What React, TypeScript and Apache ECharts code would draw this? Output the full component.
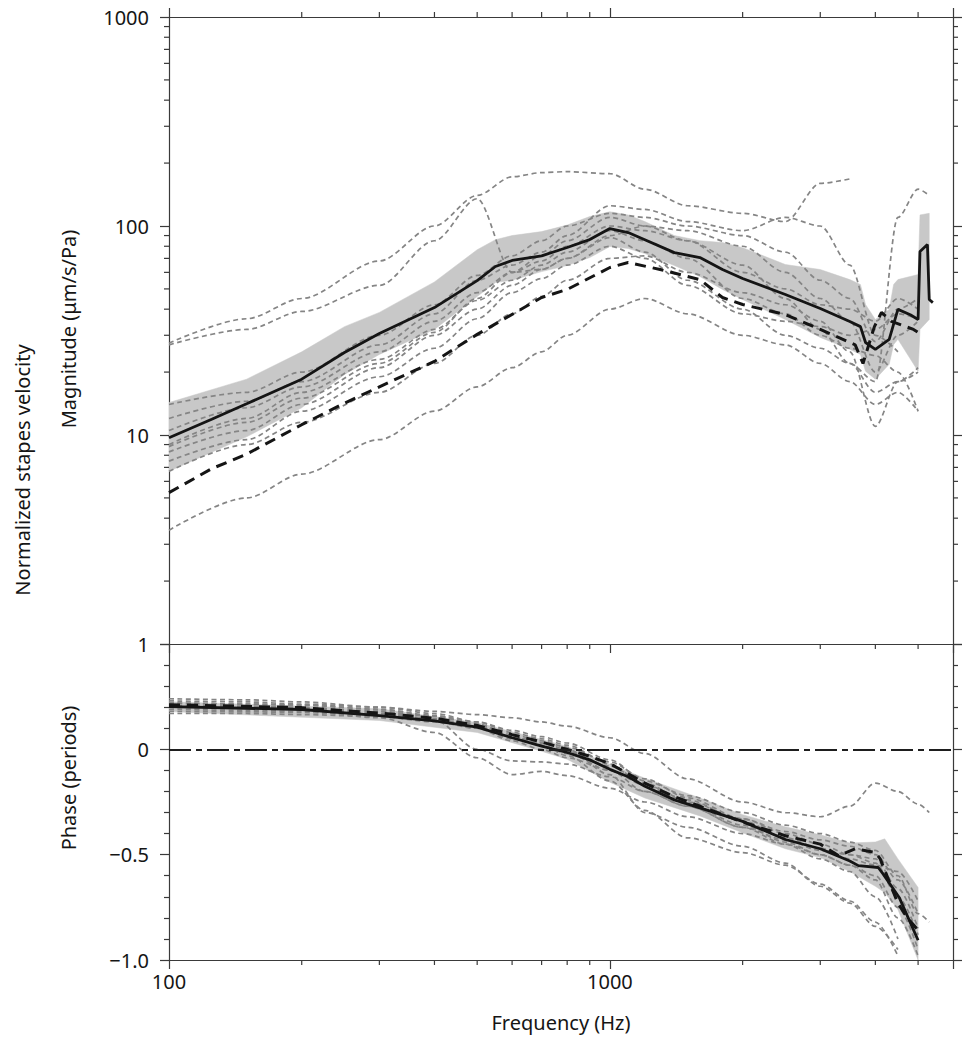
import React, { useEffect, useRef } from "react";
import * as echarts from "echarts";

const FONT = '"Noto Sans", "DejaVu Sans", Arial, sans-serif';
const INK = "#151515";
const AXIS = "#3a3a3a";
const EAR = "#858585";
const BAND = "#c8c8c8";

// ---- tick values ----
const xTickLabels = [100, 1000];
const freqMinorTicks = [200, 300, 400, 500, 600, 700, 800, 900, 2000, 3000, 4000, 5000];
const magTickLabels = [1, 10, 100, 1000];
const magMinorTicks = [2, 3, 4, 5, 6, 7, 8, 9, 20, 30, 40, 50, 60, 70, 80, 90, 200, 300, 400, 500, 600, 700, 800, 900];
const phaseTickLabels = [-1, -0.5, 0];

// ---- magnitude: mean (solid) ----
const freqMeanMag = [100, 125, 150, 200, 250, 300, 400, 500, 550, 600, 700, 800, 900, 1000, 1100, 1200, 1400, 1600, 1800, 2000, 2500, 3000, 3500, 3700, 3800, 4000, 4300, 4500, 4800, 5000, 5050, 5250, 5300, 5400];
const meanMag = [9.7, 11.9, 14.1, 18.5, 24.8, 30.6, 40.7, 54.8, 64, 68.4, 72, 78.9, 86.1, 97.2, 93, 86, 74.6, 70.6, 61.9, 56.1, 47, 40.3, 34.9, 33, 27.7, 25.7, 28.7, 39.9, 37.6, 35.7, 75.5, 81.5, 44.5, 43];

// ---- magnitude: second mean (dashed) ----
const freqDashMag = [100, 125, 150, 200, 250, 300, 400, 500, 700, 800, 1000, 1100, 1300, 1600, 1800, 2000, 2500, 3000, 3600, 3750, 3980, 4130, 4350, 4880, 5000];
const dashMag = [5.3, 6.9, 8.1, 11.2, 14.2, 17, 22.5, 30.3, 45.5, 49.7, 63.3, 66.9, 61.9, 55.4, 45.5, 42.1, 37.7, 32, 27, 22, 33, 38.6, 35, 32, 31];

// ---- magnitude: shaded band ----
const freqBandMag = [100, 150, 200, 250, 300, 400, 500, 550, 600, 700, 800, 900, 1000, 1100, 1200, 1400, 1600, 1800, 2000, 2500, 3000, 3500, 3700, 3800, 4000, 4300, 4400, 4500, 5000, 5050, 5300];
const bandMagHi = [14.3, 18.5, 25, 33, 38.6, 54, 77, 86, 90, 94, 101, 111, 117, 113, 105, 90, 85.1, 83.3, 78.8, 65.4, 61.9, 55.4, 52.5, 42.1, 35.7, 39.9, 52.5, 55.4, 58.6, 113, 115];
const bandMagLo = [6.71, 9.8, 13.5, 19.5, 24.3, 32, 46, 53.6, 55, 60.5, 64.7, 70.6, 79.8, 78, 73.8, 64.7, 57.3, 49.7, 44.5, 35.7, 29.3, 25.7, 24.3, 20.2, 18.5, 21.8, 27.1, 28.7, 20.2, 32, 35.7];

// ---- individual ears ----
const freqEar = [100, 150, 200, 300, 400, 500, 600, 700, 800, 1000, 1200, 1500, 2000, 2500, 3000, 3500, 4000, 4500, 5000, 5300];
const magEarA = [27.5, 36, 45, 68, 100, 140, 172, 180, 182, 178, 150, 125, 115, 105, 160, 168, null, null, null, null];
const magEarB = [27, 32, 39, 52, 85, 135, 60, 62, 70, 90, 100, 95, 80, 60, 45, 35, 20, 30, 35, null];
const magEarC = [14, 16, 20, 30, 42, 58, 72, 85, 100, 115, 110, 100, 90, 75, 55, 45, 28, 40, 45, null];
const magEarD = [12, 14.5, 18, 27, 38, 55, 65, 75, 90, 125, 120, 105, 95, 110, 100, 65, 30, 25, null, null];
const magEarE = [10.5, 13.5, 17, 25, 35, 48, 60, 68, 80, 100, 95, 85, 60, 50, 42, 40, 35, 45, 40, null];
const magEarF = [9, 12, 16, 23, 32, 44, 55, 65, 75, 95, 85, 70, 45, 38, 30, 26, 24, 20, 13, null];
const magEarG = [8.3, 10.5, 14, 21, 30, 40, 52, 62, 70, 88, 75, 55, 40, 30, 26, 22, 16, 18, 20, null];
const magEarH = [7.5, 9.5, 13, 19, 26, 36, 48, 56, 65, 80, 70, 52, 38, 35, 33, 30, 32, 38, 36, null];
const magEarI = [8.8, 11.5, 15, 22, 31, 45, 60, 72, 85, 110, 100, 85, 65, 45, 32, 22, 18, 110, 150, 140];
const magEarJ = [6.7, 9, 11.5, 16, 22, 30, 38, 46, 55, 70, 72, 60, 48, 42, 35, 25, 11, 18, 21, null];
const magEarK = [3.5, 5, 6.5, 9.5, 13, 17, 21, 25, 30, 40, 45, 38, 30, 27, 22, 18, 14, 16, 13, null];

const phEarA = [0.23, 0.225, 0.215, 0.2, 0.18, 0.165, 0.15, 0.13, 0.11, 0.055, -0.02, -0.14, -0.25, -0.3, -0.32, -0.27, -0.16, -0.2, -0.26, -0.3];
const phEarB = [0.19, 0.185, 0.18, 0.15, 0.08, -0.04, -0.12, -0.105, -0.125, -0.185, -0.25, -0.32, -0.4, -0.45, -0.5, -0.55, -0.62, -0.8, -0.98, null];
const phEarC = [0.2, 0.2, 0.195, 0.18, 0.14, 0.0, -0.055, -0.06, -0.07, -0.13, -0.2, -0.27, -0.37, -0.45, -0.52, -0.58, -0.7, -0.9, null, null];
const phEarD = [0.21, 0.205, 0.2, 0.18, 0.155, 0.12, 0.07, 0.04, 0.01, -0.06, -0.14, -0.23, -0.33, -0.39, -0.43, -0.46, -0.5, -0.62, -0.78, null];
const phEarE = [0.22, 0.215, 0.21, 0.19, 0.16, 0.12, 0.06, 0.02, -0.03, -0.15, -0.29, -0.42, -0.49, -0.55, -0.64, -0.72, -0.82, -0.98, null, null];
const phEarF = [0.2, 0.195, 0.19, 0.17, 0.145, 0.11, 0.06, 0.03, 0.0, -0.12, -0.3, -0.37, -0.46, -0.54, -0.65, -0.73, -0.84, -0.95, null, null];
const phEarG = [0.24, 0.235, 0.225, 0.2, 0.17, 0.13, 0.09, 0.06, 0.03, -0.05, -0.15, -0.22, -0.3, -0.36, -0.4, -0.44, -0.48, -0.6, -0.78, -0.82];
const phEarH = [0.17, 0.17, 0.165, 0.155, 0.13, 0.1, 0.05, 0.02, -0.02, -0.1, -0.17, -0.26, -0.36, -0.44, -0.5, -0.55, -0.6, -0.75, -0.95, null];
const phEarI = [0.22, 0.215, 0.21, 0.19, 0.16, 0.13, 0.08, 0.05, 0.02, -0.07, -0.17, -0.24, -0.34, -0.42, -0.47, -0.52, -0.55, -0.58, -0.72, null];
const phEarJ = [0.2, 0.195, 0.19, 0.17, 0.14, 0.1, 0.04, 0.0, -0.04, -0.1, -0.2, -0.27, -0.37, -0.43, -0.48, -0.5, -0.52, -0.66, -0.85, null];
const phEarK = [0.18, 0.178, 0.175, 0.16, 0.135, 0.105, 0.06, 0.03, -0.01, -0.08, -0.16, -0.25, -0.33, -0.4, -0.45, -0.5, -0.54, -0.7, -0.88, null];

// ---- phase: mean, dashed, band ----
const freqMeanPh = [100, 200, 300, 400, 500, 600, 700, 800, 900, 1000, 1100, 1200, 1400, 1600, 2000, 2500, 3000, 3500, 3660, 4060, 4160, 4530, 5000];
const meanPh = [0.203, 0.189, 0.16, 0.135, 0.105, 0.055, 0.015, -0.015, -0.05, -0.095, -0.13, -0.175, -0.24, -0.278, -0.342, -0.428, -0.472, -0.53, -0.552, -0.561, -0.59, -0.703, -0.906];
const freqDashPh = [100, 200, 300, 400, 500, 600, 700, 800, 900, 1000, 1200, 1400, 1600, 2000, 2500, 3000, 3300, 3600, 4000, 4100, 4500, 4730, 5000];
const dashPh = [0.212, 0.198, 0.172, 0.148, 0.113, 0.07, 0.035, 0.0, -0.033, -0.068, -0.16, -0.225, -0.27, -0.345, -0.41, -0.45, -0.505, -0.472, -0.49, -0.519, -0.731, -0.8, -0.858];
const freqBandPh = [100, 300, 500, 700, 800, 1000, 1200, 1600, 2000, 2500, 3000, 3500, 4000, 4200, 4500, 5000];
const bandPhHi = [0.226, 0.193, 0.127, 0.047, 0.014, -0.071, -0.137, -0.231, -0.31, -0.368, -0.406, -0.445, -0.44, -0.425, -0.52, -0.656];
const bandPhLo = [0.179, 0.137, 0.08, -0.009, -0.047, -0.156, -0.231, -0.316, -0.396, -0.472, -0.514, -0.58, -0.65, -0.68, -0.76, -1.0];

const F_MIN = 100;
const F_MAX = 6000;

const magEars = [magEarA, magEarB, magEarC, magEarD, magEarE, magEarF, magEarG, magEarH, magEarI, magEarJ, magEarK];
const phEars = [phEarA, phEarB, phEarC, phEarD, phEarE, phEarF, phEarG, phEarH, phEarI, phEarJ, phEarK];

const pts = (fs: number[], vs: (number | null)[]) =>
  fs.map((f, i) => [f, vs[i] == null ? "-" : vs[i]]);

function tickMarks(xAxisIndex: number, yAxisIndex: number, data: number[][], dx: number, dy: number) {
  return {
    type: "custom",
    xAxisIndex,
    yAxisIndex,
    silent: true,
    clip: false,
    z: 6,
    data,
    renderItem: (_p: any, api: any) => {
      const p = api.coord([api.value(0), api.value(1)]);
      return {
        type: "line",
        shape: { x1: p[0], y1: p[1], x2: p[0] + dx, y2: p[1] + dy },
        style: { stroke: AXIS, lineWidth: 1.2 },
      };
    },
  };
}

function bandSeries(xAxisIndex: number, yAxisIndex: number, fs: number[], lo: number[], hi: number[]) {
  return {
    type: "custom",
    xAxisIndex,
    yAxisIndex,
    silent: true,
    clip: true,
    z: 1,
    data: fs.map((f, i) => [f, lo[i], hi[i]]),
    encode: { x: 0, y: [1, 2] },
    renderItem: (params: any, api: any) => {
      if (params.dataIndex !== 0) return null;
      const top = fs.map((f, i) => api.coord([f, hi[i]]));
      const bottom = fs.map((f, i) => api.coord([f, lo[i]])).reverse();
      return {
        type: "polygon",
        shape: { points: top.concat(bottom) },
        style: { fill: BAND, stroke: BAND, lineWidth: 0.5 },
      };
    },
  };
}

const axisLineStyle = { color: AXIS, width: 1.2 };

function logX(gridIndex: number, position: string, showLabels: boolean) {
  return {
    type: "log",
    logBase: 10,
    gridIndex,
    position,
    min: F_MIN,
    max: F_MAX,
    axisLine: { show: true, onZero: false, lineStyle: axisLineStyle },
    axisTick: { show: true, inside: false, length: 9, lineStyle: axisLineStyle },
    splitLine: { show: false },
    minorTick: { show: false },
    axisLabel: {
      show: showLabels,
      margin: 11,
      fontSize: 20,
      fontFamily: FONT,
      color: INK,
      showMinLabel: true,
      showMaxLabel: true,
      formatter: (v: number) => {
        const r = Math.round(v);
        return xTickLabels.includes(r) ? String(r) : "";
      },
    },
  };
}

function App() {
  const ref = useRef<HTMLDivElement>(null);
  useEffect(() => {
    document.body.style.margin = "0";
    if (!ref.current) return;
    const chart = echarts.init(ref.current, null, { renderer: "svg" });

    const series: any[] = [];
    series.push(bandSeries(0, 0, freqBandMag, bandMagLo, bandMagHi));
    series.push(bandSeries(2, 2, freqBandPh, bandPhLo, bandPhHi));

    const earStyle = { color: EAR, width: 1.7, type: [5, 3.5] };
    magEars.forEach((arr) =>
      series.push({
        type: "line", xAxisIndex: 0, yAxisIndex: 0, data: pts(freqEar, arr), symbol: "none",
        smooth: 0.3, smoothMonotone: "x", lineStyle: earStyle, z: 2, silent: true,
      })
    );
    phEars.forEach((arr) =>
      series.push({
        type: "line", xAxisIndex: 2, yAxisIndex: 2, data: pts(freqEar, arr), symbol: "none",
        smooth: 0.3, smoothMonotone: "x", lineStyle: earStyle, z: 2, silent: true,
      })
    );

    const dashStyle = { color: INK, width: 3, type: [11, 7] };
    const solidStyle = { color: INK, width: 2.8 };
    series.push({ type: "line", xAxisIndex: 0, yAxisIndex: 0, data: pts(freqDashMag, dashMag), symbol: "none", lineStyle: dashStyle, z: 3, silent: true });
    series.push({ type: "line", xAxisIndex: 0, yAxisIndex: 0, data: pts(freqMeanMag, meanMag), symbol: "none", lineStyle: solidStyle, z: 4, silent: true });
    series.push({ type: "line", xAxisIndex: 2, yAxisIndex: 2, data: pts(freqDashPh, dashPh), symbol: "none", lineStyle: dashStyle, z: 3, silent: true });
    series.push({
      type: "line", xAxisIndex: 2, yAxisIndex: 2, data: pts(freqMeanPh, meanPh), symbol: "none", lineStyle: solidStyle, z: 4, silent: true,
      markLine: {
        silent: true, symbol: ["none", "none"], label: { show: false },
        lineStyle: { color: "#1e1e1e", width: 2, type: [22, 5, 6, 5] },
        data: [{ yAxis: 0 }],
      },
    });

    series.push(tickMarks(0, 0, magMinorTicks.map((v) => [F_MIN, v]), -5, 0));
    series.push(tickMarks(0, 0, magMinorTicks.map((v) => [F_MAX, v]), 5, 0));
    series.push(tickMarks(0, 0, freqMinorTicks.map((f) => [f, 1000]), 0, -5));
    series.push(tickMarks(0, 0, freqMinorTicks.map((f) => [f, 1]), 0, 5));
    series.push(tickMarks(2, 2, freqMinorTicks.map((f) => [f, -1]), 0, 5));

    const titleStyle = (text: string) => ({
      text, fontSize: 20, fontFamily: FONT, fill: INK,
      align: "center", verticalAlign: "middle", textAlign: "center", textVerticalAlign: "middle",
    });

    chart.setOption({
      animation: false,
      backgroundColor: "#ffffff",
      grid: [
        { left: 169, top: 17, width: 784, height: 627 },
        { left: 169, top: 644, width: 784, height: 316 },
      ],
      xAxis: [logX(0, "bottom", false), logX(0, "top", false), logX(1, "bottom", true)],
      yAxis: [
        {
          type: "log", logBase: 10, gridIndex: 0, position: "left", min: 1, max: 1000,
          axisLine: { show: true, onZero: false, lineStyle: axisLineStyle },
          axisTick: { show: true, inside: false, length: 9, lineStyle: axisLineStyle },
          splitLine: { show: false },
          axisLabel: {
            show: true, margin: 20, fontSize: 20, fontFamily: FONT, color: INK,
            showMinLabel: true, showMaxLabel: true,
            formatter: (v: number) => {
              const r = Math.round(v);
              return magTickLabels.includes(r) ? String(r) : "";
            },
          },
        },
        {
          type: "log", logBase: 10, gridIndex: 0, position: "right", min: 1, max: 1000,
          axisLine: { show: true, onZero: false, lineStyle: axisLineStyle },
          axisTick: { show: true, inside: false, length: 9, lineStyle: axisLineStyle },
          splitLine: { show: false },
          axisLabel: { show: false },
        },
        {
          type: "value", gridIndex: 1, position: "left", min: -1, max: 0.5, interval: 0.5,
          axisLine: { show: true, onZero: false, lineStyle: axisLineStyle },
          axisTick: { show: true, inside: false, length: 9, lineStyle: axisLineStyle },
          minorTick: { show: true, splitNumber: 5, length: 5, lineStyle: axisLineStyle },
          splitLine: { show: false },
          minorSplitLine: { show: false },
          axisLabel: {
            show: true, margin: 20, fontSize: 20, fontFamily: FONT, color: INK,
            showMinLabel: true, showMaxLabel: true,
            formatter: (v: number) => {
              const hit = phaseTickLabels.find((t) => Math.abs(t - v) < 1e-6);
              if (hit === undefined) return "";
              if (hit === 0) return "0";
              return "\u2212" + Math.abs(hit).toFixed(1);
            },
          },
        },
        {
          type: "value", gridIndex: 1, position: "right", min: -1, max: 0.5, interval: 0.5,
          axisLine: { show: true, onZero: false, lineStyle: axisLineStyle },
          axisTick: { show: true, inside: false, length: 9, lineStyle: axisLineStyle },
          minorTick: { show: true, splitNumber: 5, length: 5, lineStyle: axisLineStyle },
          splitLine: { show: false },
          minorSplitLine: { show: false },
          axisLabel: { show: false },
        },
      ],
      graphic: [
        { type: "text", x: 22, y: 470, rotation: Math.PI / 2, style: titleStyle("Normalized stapes velocity") },
        { type: "text", x: 68, y: 329, rotation: Math.PI / 2, style: titleStyle("Magnitude (\u03bcm/s/Pa)") },
        { type: "text", x: 68, y: 778, rotation: Math.PI / 2, style: titleStyle("Phase (periods)") },
        { type: "text", x: 561, y: 1022, style: titleStyle("Frequency (Hz)") },
      ],
      series,
    });
    return () => chart.dispose();
  }, []);
  return <div ref={ref} style={{ width: 972, height: 1050 }} />;
}

export default App;
